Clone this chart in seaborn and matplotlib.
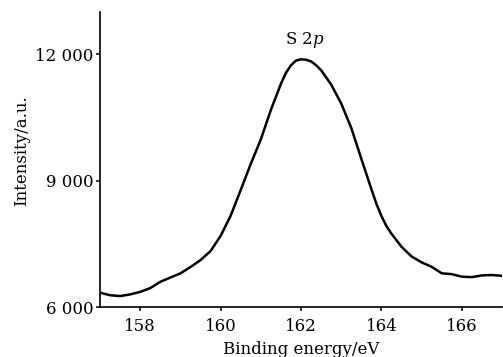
import matplotlib
matplotlib.use("Agg")
import matplotlib.pyplot as plt
import seaborn as sns
import pandas as pd

# Data
binding_energy = [157.0, 157.25, 157.5, 157.75, 158.0, 158.25, 158.5, 158.75,
                  159.0, 159.25, 159.5, 159.75, 160.0, 160.25, 160.5, 160.75,
                  161.0, 161.25, 161.5, 161.625, 161.75, 161.875, 162.0, 162.125,
                  162.25, 162.375, 162.5, 162.75,
                  163.0, 163.25, 163.5, 163.75, 163.875, 164.0, 164.125, 164.25,
                  164.5, 164.75,
                  165.0, 165.25, 165.5, 165.75, 166.0, 166.25, 166.5, 166.75, 167.0]
intensity = [6340, 6280, 6260, 6300, 6360, 6450, 6600, 6700,
             6800, 6950, 7115, 7330, 7690, 8170, 8780, 9400,
             9980, 10680, 11300, 11560, 11740, 11850, 11880, 11870,
             11830, 11740, 11620, 11280,
             10830, 10250, 9520, 8800, 8450, 8160, 7920, 7740,
             7430, 7200,
             7060, 6955, 6800, 6780, 6720, 6710, 6750, 6760, 6740]

x_ticks = [158, 160, 162, 164, 166]
y_ticks = [6000, 9000, 12000]
y_tick_labels = ["6 000", "9 000", "12 000"]
peak_label = r"S 2$\mathit{p}$"
x_label = "Binding energy/eV"
y_label = "Intensity/a.u."

sns.set_style("ticks")
plt.rcParams["font.family"] = ["DejaVu Serif"]
plt.rcParams["mathtext.fontset"] = "dejavuserif"
plt.rcParams["text.color"] = "black"
plt.rcParams["axes.labelcolor"] = "black"

df = pd.DataFrame({"x": binding_energy, "y": intensity})

fig = plt.figure(figsize=(5.03, 3.57), dpi=100)
ax = fig.add_axes([0.199, 0.140, 0.799, 0.826])
sns.lineplot(data=df, x="x", y="y", ax=ax, color="black", linewidth=1.8)

ax.set_xlim(157, 167)
ax.set_ylim(6000, 13000)
ax.set_xticks(x_ticks)
ax.set_xticklabels([str(t) for t in x_ticks])
ax.set_yticks(y_ticks)
ax.set_yticklabels(y_tick_labels)
ax.tick_params(axis="both", direction="out", length=3, width=1.1,
               labelsize=12, colors="black", pad=2)
ax.tick_params(axis="x", pad=5)
for s in ["top", "right"]:
    ax.spines[s].set_visible(False)
for s in ["left", "bottom"]:
    ax.spines[s].set_linewidth(1.2)
    ax.spines[s].set_color("black")

ax.set_xlabel(x_label, fontsize=12, labelpad=4, color="black")
ax.set_ylabel(y_label, fontsize=12, color="black")
ax.yaxis.set_label_coords(-0.175, 0.53)

ax.text(162.1, 12330, peak_label, ha="center", va="center", fontsize=12,
        color="black")

fig.savefig("out.png", dpi=100)
